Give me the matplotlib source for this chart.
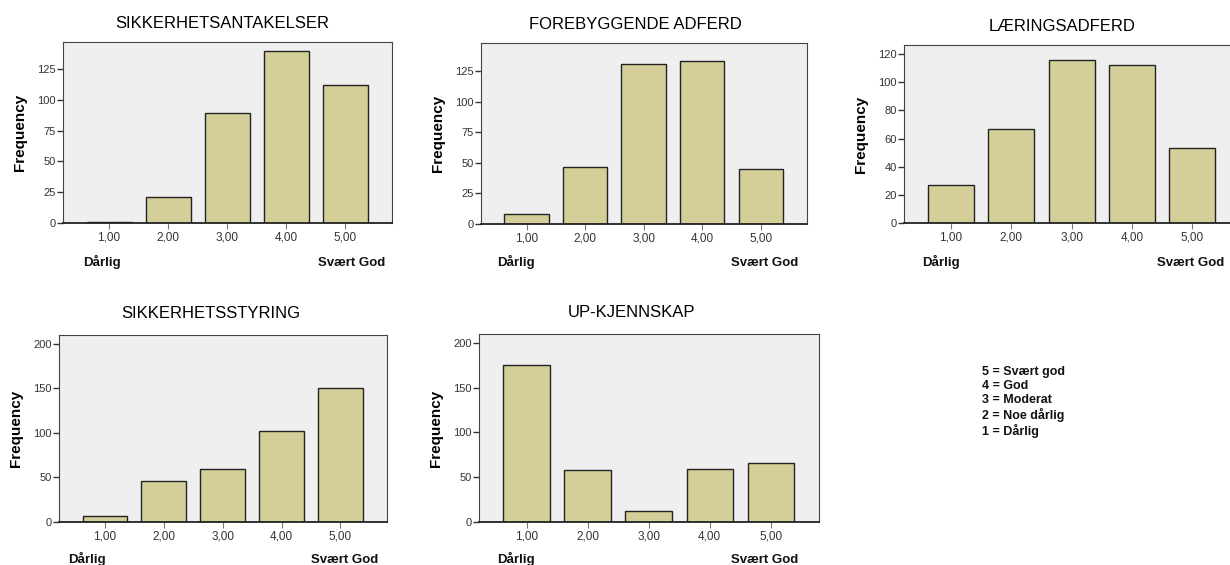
import matplotlib
matplotlib.use('Agg')
import matplotlib.pyplot as plt
import numpy as np

plt.rcParams['font.family'] = ['Liberation Sans', 'DejaVu Sans']

# data
categories = [1, 2, 3, 4, 5]
tick_labels = ["1,00", "2,00", "3,00", "4,00", "5,00"]

titles = ["SIKKERHETSANTAKELSER", "FOREBYGGENDE ADFERD", "LÆRINGSADFERD",
          "SIKKERHETSSTYRING", "UP-KJENNSKAP"]
sikkerhetsantakelser = [1, 21, 89, 140, 112]
forebyggende_adferd = [8, 47, 131, 133, 45]
laeringsadferd = [27, 67, 116, 112, 53]
sikkerhetsstyring = [7, 46, 59, 102, 151]
up_kjennskap = [175, 58, 12, 59, 66]

yticks_top = [0, 25, 50, 75, 100, 125]
yticks_laering = [0, 20, 40, 60, 80, 100, 120]
yticks_bottom = [0, 50, 100, 150, 200]

legend_lines = ["5 = Svært god", "4 = God", "3 = Moderat", "2 = Noe dårlig", "1 = Dårlig"]

W, H = 1230, 565
fig = plt.figure(figsize=(W / 100, H / 100), dpi=100)

# axes boxes in pixels: left, top, right, bottom
boxes = [(63, 42, 392, 223), (481, 43, 807, 224), (904, 45, 1240, 223),
         (59, 335, 387, 522), (479, 334, 819, 522)]
series = [sikkerhetsantakelser, forebyggende_adferd, laeringsadferd, sikkerhetsstyring, up_kjennskap]
ytop = [147, 148, 126.4, 210, 210]
yticks = [yticks_top, yticks_top, yticks_laering, yticks_bottom, yticks_bottom]
title_cx = [222, 635, 1062, 211, 632]
left_x = [83, 497, 922, 68, 497]
right_x = [385, 798, 1224, 378, 798]

bar_col = '#d4cf98'
bg_col = '#efefef'
frame_col = '#444444'

for i in range(5):
    l, t, r, b = boxes[i]
    ax = fig.add_axes([l / W, 1 - b / H, (r - l) / W, (b - t) / H])
    ax.set_facecolor(bg_col)
    ax.bar(categories, series[i], width=0.76, color=bar_col, edgecolor='#222222', linewidth=1.0, zorder=2)
    ax.set_xlim(0.22, 5.79)
    ax.set_ylim(0, ytop[i])
    ax.set_yticks(yticks[i])
    ax.set_xticks(categories)
    ax.set_xticklabels(tick_labels)
    ax.tick_params(axis='x', length=4, width=0.8, color='#777777', pad=2, labelsize=8.5, labelcolor='#333333')
    ax.tick_params(axis='y', length=4, width=1, pad=1, labelsize=8, colors='#333333')
    for s in ax.spines.values():
        s.set_color(frame_col)
        s.set_linewidth(0.8)
    ax.spines['bottom'].set_color('#222222')
    ax.spines['bottom'].set_linewidth(1.3)
    ax.set_ylabel("Frequency", fontsize=11, fontweight='bold')
    ax.yaxis.set_label_coords(-36 / (r - l), 0.5)
    ax.set_title(titles[i], fontsize=12, x=(title_cx[i] - l) / (r - l), pad=10 if i < 3 else 12)
    # Dårlig / Svært God under the axis
    ybase = 266 if i < 3 else 563
    fig.text(left_x[i] / W, 1 - ybase / H, "Dårlig", fontsize=9.5, fontweight='bold',
             ha='left', va='baseline', color='#111111')
    fig.text(right_x[i] / W, 1 - ybase / H, "Svært God", fontsize=9.5, fontweight='bold',
             ha='right', va='baseline', color='#111111')

fig.text(982 / W, 1 - 366 / H, "\n".join(legend_lines), fontsize=9, fontweight='bold',
         ha='left', va='top', linespacing=1.2, color='#111111')

fig.savefig('out.png', dpi=100, facecolor='white')
